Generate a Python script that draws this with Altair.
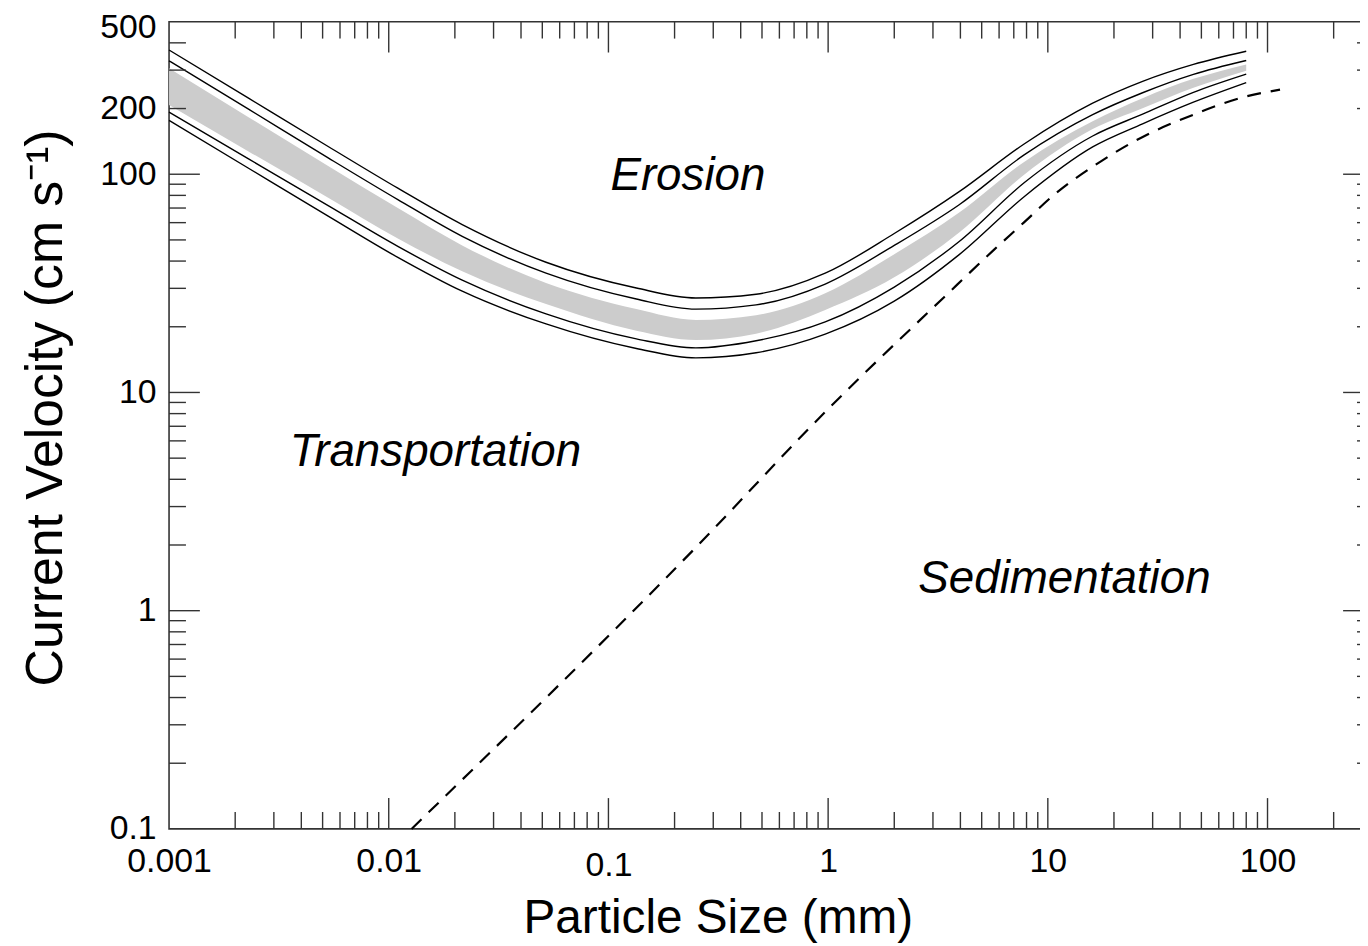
import altair as alt
import pandas as pd

# ---- data (Hjulström-type diagram) ----
size_mm = [0.001, 0.0023, 0.0053, 0.011, 0.0216, 0.052, 0.134, 0.25, 0.47, 0.97,
           2.0, 3.95, 7.8, 16, 27, 46, 80]
upper_outer = [371, 223, 134, 86.3, 58.8, 39.5, 30.1, 27.1, 28.2, 35.2,
               53.5, 83.2, 137.6, 211.5, 266.5, 318.6, 366]
upper_inner = [331, 198.7, 118.8, 76.5, 51.9, 35.2, 26.8, 24.1, 25.2, 31.4,
               47.2, 72.5, 122.6, 187.5, 236.2, 286.8, 332]
band_top = [306, 182.6, 109.2, 70, 47.2, 31.7, 24.1, 21.5, 22.6, 28.5,
            43.0, 66.7, 113.9, 175, 223, 273.5, 318.6]
band_bottom = [207.8, 127.2, 78.1, 50.8, 35.9, 25.4, 19.2, 17.4, 18.6, 23.9,
               33.7, 54.1, 99.4, 161, 200.7, 248.9, 298]
lower_inner = [192.5, 117.6, 71.8, 46.7, 32.7, 22.9, 17.6, 16.0, 17.25, 21.05,
               30.4, 49.2, 91.4, 149.7, 188.5, 237.4, 287.6]
lower_outer = [176.4, 106.5, 64.3, 41.6, 29.1, 20.6, 15.9, 14.4, 15.2, 18.5,
               26.2, 42.8, 78.9, 133.4, 170.2, 213.8, 262.8]

settle_size = [0.0127, 0.25, 1.0, 3.38, 5.68, 7.77, 10.6, 17.3, 28, 45.7, 77, 114]
settle_vel = [0.1, 1.95, 8.4, 27.4, 45, 60, 80, 114, 151, 187, 225, 244]

region_labels = ["Erosion", "Transportation", "Sedimentation"]
region_x = [0.23, 0.0163, 11.9]
region_y = [98.4, 5.32, 1.39]

x_label_values = [0.001, 0.01, 0.1, 1, 10, 100]
y_label_values = [0.1, 1, 10, 100, 200, 500]

x_major_ticks = [0.01, 0.1, 1, 10, 100]
x_minor_ticks = [0.002, 0.003, 0.004, 0.005, 0.006, 0.007, 0.008, 0.009,
                 0.02, 0.03, 0.04, 0.05, 0.06, 0.07, 0.08, 0.09,
                 0.2, 0.3, 0.4, 0.5, 0.6, 0.7, 0.8, 0.9,
                 2, 3, 4, 5, 6, 7, 8, 9,
                 20, 30, 40, 50, 60, 70, 80, 90,
                 200, 300]
y_major_ticks = [1, 10, 100]
y_minor_ticks = [0.2, 0.3, 0.4, 0.5, 0.6, 0.7, 0.8, 0.9,
                 2, 3, 4, 5, 6, 7, 8, 9,
                 20, 30, 40, 50, 60, 70, 80, 90,
                 200, 300, 400]

# ---- layout ----
W, H = 1212, 812
FONT = "Liberation Sans"
MAJOR, MINOR = 31, 17
TICK_COLOR = "#333333"

xs = alt.Scale(type="log", domain=[0.001, 305], nice=False)
ys = alt.Scale(type="log", domain=[0.1, 500], nice=False)

curves = pd.DataFrame({
    "size": size_mm,
    "upper_outer": upper_outer,
    "upper_inner": upper_inner,
    "band_top": band_top,
    "band_bottom": band_bottom,
    "lower_inner": lower_inner,
    "lower_outer": lower_outer,
})
long = curves.melt(id_vars="size",
                   value_vars=["upper_outer", "upper_inner", "lower_inner", "lower_outer"],
                   var_name="curve", value_name="vel")
settle = pd.DataFrame({"size": settle_size, "vel": settle_vel})
regions = pd.DataFrame({"label": region_labels, "x": region_x, "y": region_y})

x_axis = alt.Axis(values=x_label_values, format="~g", ticks=False, domain=False, grid=False,
                  labelFont=FONT, labelFontSize=34, labelColor="black",
                  labelPadding={"condition": {"test": "datum.value == 0.1", "value": 20}, "value": 16},
                  labelFlush=False, labelOverlap=False,
                  title="Particle Size (mm)", titleFont=FONT, titleFontSize=48,
                  titleFontWeight="normal", titleColor="black",
                  titleX=552, titleY=104, titleAlign="center", titleBaseline="alphabetic")
y_axis = alt.Axis(values=y_label_values, format="~g", ticks=False, domain=False, grid=False,
                  labelFont=FONT, labelFontSize=34, labelColor="black", labelPadding=13,
                  labelOffset={"condition": {"test": "datum.value == 500", "value": 6}, "value": 0},
                  labelOverlap=False,
                  title="Current Velocity (cm s\u207b\u00b9)", titleFont=FONT, titleFontSize=52,
                  titleFontWeight="normal", titleColor="black", titleAngle=270,
                  titleX=-108, titleY=388, titleAlign="center", titleBaseline="alphabetic")


def X(field):
    return alt.X(field, scale=xs, axis=x_axis)


def Y(field):
    return alt.Y(field, scale=ys, axis=y_axis)


band = alt.Chart(curves).mark_area(color="#cccccc", interpolate="monotone").encode(
    x=X("size:Q"), y=Y("band_top:Q"), y2="band_bottom:Q",
)

lines = alt.Chart(long).mark_line(color="black", strokeWidth=1.4, interpolate="monotone").encode(
    x=X("size:Q"), y=Y("vel:Q"), detail="curve:N",
)

dashed = alt.Chart(settle).mark_line(color="black", strokeWidth=2.2, strokeDash=[14, 10],
                                     interpolate="monotone").encode(
    x=X("size:Q"), y=Y("vel:Q"),
)

texts = alt.Chart(regions).mark_text(font=FONT, fontSize=46, fontStyle="italic",
                                     align="center", baseline="middle", color="black").encode(
    x=X("x:Q"), y=Y("y:Q"), text="label:N",
)


def xticks(vals, length):
    df = pd.DataFrame({"v": vals})
    base = alt.Chart(df).mark_rule(color=TICK_COLOR, strokeWidth=1.4)
    bottom = base.encode(x=X("v:Q"), y=alt.value(H), y2=alt.value(H - length))
    top = base.encode(x=X("v:Q"), y=alt.value(0), y2=alt.value(length))
    return [bottom, top]


def yticks(vals, length):
    df = pd.DataFrame({"v": vals})
    base = alt.Chart(df).mark_rule(color=TICK_COLOR, strokeWidth=1.4)
    left = base.encode(y=Y("v:Q"), x=alt.value(0), x2=alt.value(length))
    right = base.encode(y=Y("v:Q"), x=alt.value(W), x2=alt.value(W - length))
    return [left, right]


tick_layers = (xticks(x_major_ticks, MAJOR) + xticks(x_minor_ticks, MINOR)
               + yticks(y_major_ticks, MAJOR) + yticks(y_minor_ticks, MINOR))

chart = alt.layer(band, lines, dashed, texts, *tick_layers).properties(
    width=W, height=H,
    autosize=alt.AutoSizeParams(type="none"),
    padding={"left": 162, "top": 11, "right": -14, "bottom": 115},
).configure_view(stroke="#333333", strokeWidth=1.6)

chart.save("out.html", embed_options={"renderer": "svg", "actions": False})
